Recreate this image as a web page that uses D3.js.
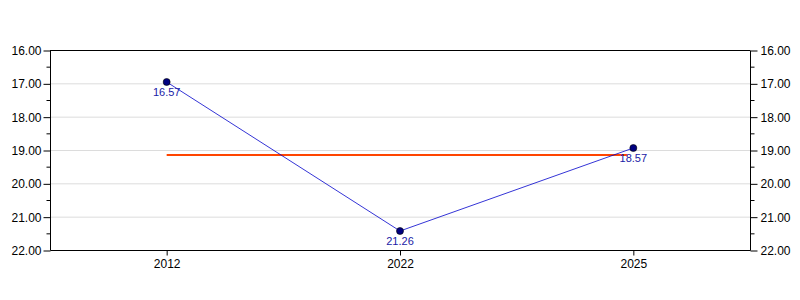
<!DOCTYPE html>
<html>
<head>
<meta charset="utf-8">
<script src="https://cdn.jsdelivr.net/npm/d3@7"></script>
<style>
body { margin: 0; background: #fff; }
text { font-family: "Liberation Sans", Arial, sans-serif; }
</style>
</head>
<body>
<div id="container"><svg></svg></div>
<script>
let width = 800;
let height = 300;

// data
let years = ["2012", "2022", "2025"];
let values = [16.96, 21.43, 18.94];
let pointLabels = ["16.57", "21.26", "18.57"];
let meanValue = 19.15;
let yTicks = [16, 17, 18, 19, 20, 21, 22];

let margin = {left: 50, right: 50, top: 50, bottom: 50};

function draw_chart() {
    let svg = d3.select('#container').select('svg')
        .attr('width', width)
        .attr('height', height);

    let x = d3.scaleBand()
        .domain(years)
        .range([margin.left, width - margin.right])
        .padding(0);

    // inverted: small values at the top
    let y = d3.scaleLinear()
        .domain([16, 22])
        .range([margin.top, height - margin.bottom]);

    let cx = d => x(d) + x.bandwidth() / 2;

    // grid lines
    svg.append("g")
        .selectAll("line")
        .data(yTicks.slice(1, -1))
        .join("line")
        .attr("x1", margin.left)
        .attr("x2", width - margin.right)
        .attr("y1", d => y(d) + 0.5)
        .attr("y2", d => y(d) + 0.5)
        .attr("stroke", "#dcdcdc");

    // minor ticks
    let minor = d3.range(16.5, 22, 1);

    let left = svg.append("g")
        .attr("transform", `translate(${margin.left + 0.5},0.5)`)
        .call(d3.axisLeft(y).tickValues(yTicks).tickFormat(d3.format(".2f")).tickSize(7).tickPadding(2));
    left.append("g").selectAll("line").data(minor).join("line")
        .attr("x1", -4).attr("x2", 0).attr("y1", d => y(d)).attr("y2", d => y(d)).attr("stroke", "#000");

    let right = svg.append("g")
        .attr("transform", `translate(${width - margin.right + 0.5},0.5)`)
        .call(d3.axisRight(y).tickValues(yTicks).tickFormat(d3.format(".2f")).tickSize(7).tickPadding(3));
    right.append("g").selectAll("line").data(minor).join("line")
        .attr("x1", 0).attr("x2", 4).attr("y1", d => y(d)).attr("y2", d => y(d)).attr("stroke", "#000");

    let bottom = svg.append("g")
        .attr("transform", `translate(0.5,${height - margin.bottom + 0.5})`)
        .call(d3.axisBottom(x).tickSize(5).tickPadding(4));

    // top border
    svg.append("line")
        .attr("x1", margin.left).attr("x2", width - margin.right)
        .attr("y1", margin.top + 0.5).attr("y2", margin.top + 0.5)
        .attr("stroke", "#000");

    [left, right, bottom].forEach(g => {
        g.select(".domain").attr("d", g === bottom
            ? `M${margin.left},0H${width - margin.right}`
            : `M0,${y(16)}V${y(22)}`);
        g.selectAll("text").attr("font-size", 12).attr("fill", "#000")
            .attr("font-family", "\"Liberation Sans\", Arial, sans-serif");
    });

    // mean line
    svg.append("line")
        .attr("x1", cx(years[0]))
        .attr("x2", cx(years[years.length - 1]) - 6)
        .attr("y1", y(meanValue))
        .attr("y2", y(meanValue))
        .attr("stroke", "#ff4500")
        .attr("stroke-width", 2);

    // series line
    let line = d3.line()
        .x((d, i) => cx(years[i]))
        .y(d => y(d));
    svg.append("path")
        .datum(values)
        .attr("d", line)
        .attr("fill", "none")
        .attr("stroke", "#0000cc")
        .attr("stroke-width", 0.8);

    svg.append("g")
        .selectAll("circle")
        .data(values)
        .join("circle")
        .attr("cx", (d, i) => cx(years[i]))
        .attr("cy", d => y(d))
        .attr("r", 3.5)
        .attr("fill", "#000080")
        .attr("stroke", "#000")
        .attr("stroke-width", 0.6);

    svg.append("g")
        .selectAll("text")
        .data(values)
        .join("text")
        .attr("x", (d, i) => cx(years[i]))
        .attr("y", d => y(d) + 14)
        .attr("text-anchor", "middle")
        .attr("font-size", 11)
        .attr("fill", "#1a1aa6")
        .text((d, i) => pointLabels[i]);
}

draw_chart();
</script>
</body>
</html>
